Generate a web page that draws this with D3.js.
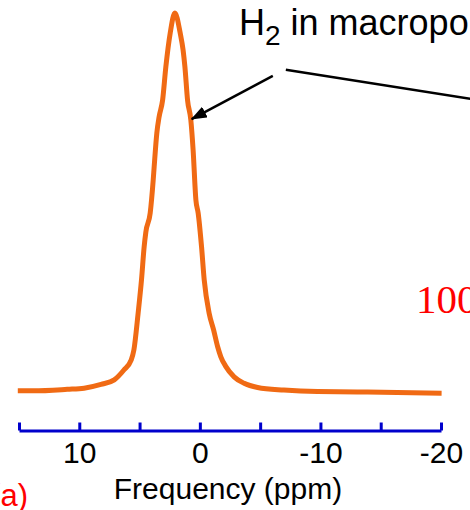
<!DOCTYPE html>
<html>
<head>
<meta charset="utf-8">
<script src="https://cdn.jsdelivr.net/npm/d3@7"></script>
<style>
  html, body { margin: 0; padding: 0; background: #fff; }
  svg { display: block; }
</style>
</head>
<body>
<svg id="chart"></svg>
<script>
// spectrum (ppm, arbitrary intensity, peak = 100)
const ppm = [15.1, 13.8, 11.0, 9.6, 8.2, 7.1, 6.3, 5.7, 5.47, 5.12, 4.84, 4.62, 4.48, 4.12, 3.87, 3.79, 3.57, 3.38, 3.09, 2.82, 2.46, 2.07,
  1.63, 1.39, 1.24, 1.02, 0.75, 0.56, 0.33, 0.14, -0.14, -0.36, -0.77, -1.14, -1.47, -1.74, -2.16, -2.84, -3.67, -4.79, -6.97, -9.76, -13.9, -20.05];
const intensity = [0.3, 0.3, 0.7, 1.0, 2.0, 3.2, 5.8, 8.4, 11.1, 20.8, 29.6, 38.3, 42.2, 47.2, 55.9, 59.4, 68.3, 72.6, 77.0, 85.8, 94.7, 100,
  94.7, 90.2, 85.8, 77.0, 71.8, 63.9, 50.7, 47.2, 38.3, 29.6, 20.8, 16.4, 12.0, 9.3, 6.7, 4.0, 2.3, 1.2, 0.5, 0.1, 0, -0.3];

const tickValues = [15, 10, 5, 0, -5, -10, -15, -20];
const labeledTicks = [10, 0, -10, -20];
const xTitle = 'Frequency (ppm)';

// annotation anchors in data units [ppm, intensity]
const arrowFrom = [-6.05, 83.4];
const arrowTo = [0.68, 72];
const leaderFrom = [-7.13, 85];
const leaderTo = [-22.5, 77.3];

const width = 470, height = 510;
const sans = 'Arial, "Liberation Sans", Helvetica, sans-serif';

const svg = d3.select('#chart')
  .attr('width', width)
  .attr('height', height);

const x = d3.scaleLinear().domain([15, -20]).range([19, 441]);
const y = d3.scaleLinear().domain([0, 100]).range([392, 13]);

// axis, ticks pointing up
const axisY = 430.5;
const xAxis = d3.axisBottom(x)
  .tickValues(tickValues)
  .tickSizeInner(-8)
  .tickSizeOuter(0)
  .tickPadding(11)
  .tickFormat(d => labeledTicks.includes(d) ? String(d) : '');

const gx = svg.append('g')
  .attr('transform', `translate(0,${axisY})`)
  .call(xAxis);

gx.select('.domain').attr('stroke', '#0000cc').attr('stroke-width', 3);
gx.selectAll('.tick line').attr('stroke', '#0000cc').attr('stroke-width', 3);
gx.selectAll('.tick text')
  .attr('fill', '#000')
  .style('font-family', sans)
  .style('font-size', '30px');

svg.append('text')
  .attr('x', 228)
  .attr('y', 499)
  .attr('text-anchor', 'middle')
  .style('font-family', sans)
  .style('font-size', '30px')
  .attr('fill', '#000')
  .text(xTitle);

// spectrum line
const line = d3.line()
  .x((d, i) => x(ppm[i]))
  .y(d => y(d))
  .curve(d3.curveMonotoneX);

svg.append('path')
  .datum(intensity)
  .attr('fill', 'none')
  .attr('stroke', '#f06a14')
  .attr('stroke-width', 5)
  .attr('stroke-linejoin', 'round')
  .attr('d', line);

// arrow annotation
svg.append('defs').append('marker')
  .attr('id', 'head')
  .attr('markerUnits', 'userSpaceOnUse')
  .attr('viewBox', '0 0 16 12')
  .attr('refX', 15)
  .attr('refY', 6)
  .attr('markerWidth', 16)
  .attr('markerHeight', 12)
  .attr('orient', 'auto')
  .append('path')
  .attr('d', 'M0,0 L16,6 L0,12 Z')
  .attr('fill', '#000');

svg.append('line')
  .attr('x1', x(arrowFrom[0])).attr('y1', y(arrowFrom[1]))
  .attr('x2', x(arrowTo[0])).attr('y2', y(arrowTo[1]))
  .attr('stroke', '#000')
  .attr('stroke-width', 2.5)
  .attr('marker-end', 'url(#head)');

svg.append('line')
  .attr('x1', x(leaderFrom[0])).attr('y1', y(leaderFrom[1]))
  .attr('x2', x(leaderTo[0])).attr('y2', y(leaderTo[1]))
  .attr('stroke', '#000')
  .attr('stroke-width', 2.5);

const label = svg.append('text')
  .attr('x', 239)
  .attr('y', 35)
  .style('font-family', sans)
  .style('font-size', '36px')
  .attr('fill', '#000');
label.append('tspan').text('H');
label.append('tspan').attr('dy', 10).style('font-size', '28px').text('2');
label.append('tspan').attr('dy', -10).text(' in macropores');

// red labels from the surrounding slide
svg.append('text')
  .attr('x', 416)
  .attr('y', 313)
  .style('font-family', '"Times New Roman", "Liberation Serif", serif')
  .style('font-size', '41px')
  .attr('fill', '#ff0000')
  .text('100');

svg.append('text')
  .attr('x', 28)
  .attr('y', 506)
  .attr('text-anchor', 'end')
  .style('font-family', sans)
  .style('font-size', '31px')
  .attr('fill', '#ff0000')
  .text('(a)');
</script>
</body>
</html>
